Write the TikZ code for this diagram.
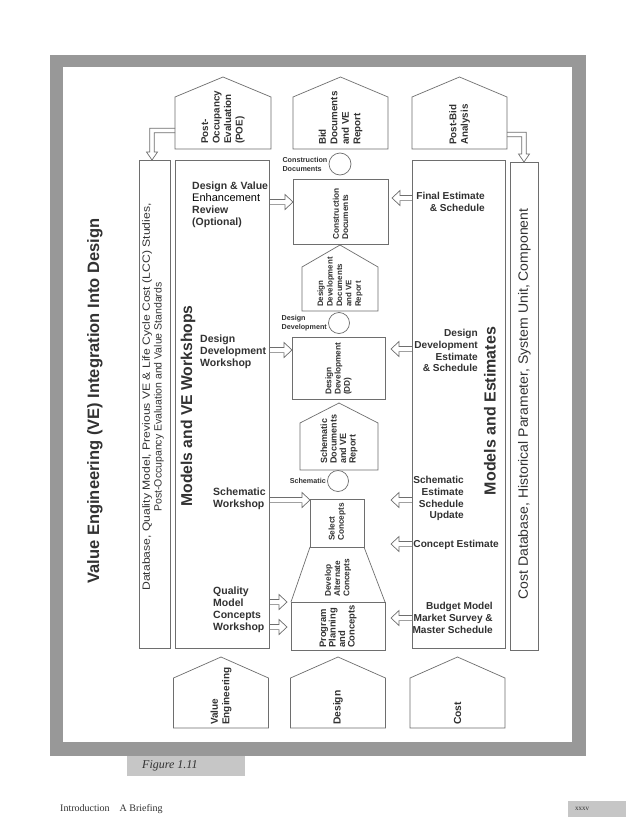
\documentclass[tikz,border=0pt]{standalone}
\usepackage{fontspec}
\setmainfont{Liberation Serif}
\setsansfont{Liberation Sans}
\usetikzlibrary{calc}
\definecolor{framegray}{RGB}{152,152,152}
\definecolor{tabgray}{RGB}{198,198,198}
\definecolor{inkline}{RGB}{110,110,110}
\definecolor{inktext}{RGB}{50,50,50}
\newcommand\fsz[2]{\fontsize{#1}{#2}\selectfont}
\newcommand\housepath[2]{\draw[ln] (#1.south west) -- (#1.north west) -- ($(#1.north)+(0,-#2)$) -- (#1.north east) -- (#1.south east) -- cycle;}
\begin{document}
\begin{tikzpicture}[x=1pt,y=-1pt,
  ln/.style={draw=inkline, line width=0.7pt},
  box/.style={ln, rectangle, inner sep=0pt, outer sep=0pt},
  body/.style={rectangle, inner sep=0pt, outer sep=0pt, draw=none},
  ring/.style={ln, circle, inner sep=0pt, outer sep=0pt},
  lbl/.style={font=\sffamily\bfseries\fsz{10.5}{12}, text=inktext, inner sep=0pt},
  rlbl/.style={font=\sffamily\bfseries\fsz{10.1}{11.8}, text=inktext, inner sep=0pt, align=right, anchor=north east},
  small/.style={font=\sffamily\bfseries\fsz{7.2}{9}, text=inktext, inner sep=1.5pt, align=left},
  vtext/.style={rotate=90, anchor=west, align=left, text=inktext, inner sep=0pt},
  boxtext/.style={vtext, font=\sffamily\bfseries\fsz{8.3}{9.3}},
  housetext/.style={vtext, font=\sffamily\bfseries\fsz{9.8}{11.5}},
  hollow/.style={ln, to path={
    let \p1=(\tikztostart), \p2=(\tikztotarget), \n1={(\x2-\x1)/abs(\x2-\x1)} in
    (\x1,{\y1+2.6pt}) -- ({\x2-(\n1)*8pt},{\y1+2.6pt}) -- ({\x2-(\n1)*8pt},{\y1+7.5pt})
    -- (\x2,\y1) -- ({\x2-(\n1)*8pt},{\y1-7.5pt}) -- ({\x2-(\n1)*8pt},{\y1-2.6pt}) -- (\x1,{\y1-2.6pt})}},
  hollowL/.style={ln, to path={
    let \p1=(\tikztostart), \p2=(\tikztotarget), \n1={(\x2-\x1)/abs(\x2-\x1)} in
    (\x1,{\y1+2.2pt}) -- ({\x2+(\n1)*2.2pt},{\y1+2.2pt}) -- ({\x2+(\n1)*2.2pt},{\y2+8pt})
    -- ({\x2+(\n1)*5.5pt},{\y2+8pt}) -- (\x2,\y2) -- ({\x2-(\n1)*5.5pt},{\y2+8pt})
    -- ({\x2-(\n1)*2.2pt},{\y2+8pt}) -- ({\x2-(\n1)*2.2pt},{\y1-2.2pt}) -- (\x1,{\y1-2.2pt})}}
]
\useasboundingbox (0,0) rectangle (638,827);
\fill[white] (0,0) rectangle (638,827);
% frame
\fill[framegray] (50,55) rectangle (586,756);
\fill[white] (63,67) rectangle (572,742);
% caption tab and footer
\node[fill=tabgray, minimum width=118pt, minimum height=20pt, anchor=north west, inner sep=0pt] (figtab) at (127,756) {};
\node[font=\rmfamily\itshape\fsz{12}{14}, text=inktext, anchor=west, inner sep=0pt] (figtxt) at ($(figtab.west)+(15,0)$) {Figure 1.11};
\node[font=\rmfamily\fsz{10}{12}, text=inktext, anchor=west, inner sep=0pt] (intro) at (60,809) {Introduction\quad A Briefing};
\node[fill=tabgray, minimum width=58pt, minimum height=16pt, anchor=north west, inner sep=0pt] (pg) at (568,801) {};
\node[font=\rmfamily\fsz{7}{8}, text=inktext, anchor=west, inner sep=0pt] (pgtxt) at ($(pg.west)+(7,0)$) {xxxv};

% tall boxes
\node[box, minimum width=31pt, minimum height=488pt] (dbL) at (154.5,404) {};
\node[box, minimum width=94pt, minimum height=488pt] (mve) at (222,404) {};
\node[box, minimum width=93pt, minimum height=488pt] (me) at (458.5,404) {};
\node[box, minimum width=28pt, minimum height=488pt] (dbR) at (524,406) {};

% top houses
\node[body, minimum width=96pt, minimum height=52pt] (poe) at (223,123) {};
\node[body, minimum width=95pt, minimum height=52pt] (bid) at (340.5,123) {};
\node[body, minimum width=95pt, minimum height=52pt] (postbid) at (459.5,123) {};
\housepath{poe}{20}
\housepath{bid}{20}
\housepath{postbid}{20}
\node[housetext] at ($(poe.south)+(0,-5)$) {Post-\\Occupancy\\Evaluation\\(POE)};
\node[housetext] at ($(bid.south)+(0,-4)$) {Bid\\Documents\\and VE\\Report};
\node[housetext] at ($(postbid.south)+(0,-4)$) {Post-Bid\\Analysis};

% bottom houses
\node[body, minimum width=95pt, minimum height=50pt] (veh) at (221,703) {};
\node[body, minimum width=95pt, minimum height=50pt] (desh) at (338,703) {};
\node[body, minimum width=95pt, minimum height=50pt] (costh) at (457.5,703) {};
\housepath{veh}{21}
\housepath{desh}{21}
\housepath{costh}{21}
\node[vtext, font=\sffamily\bfseries\fsz{10}{11.5}] at ($(veh.south)+(0,-3)$) {Value\\Engineering};
\node[vtext, font=\sffamily\bfseries\fsz{10.3}{12}] at ($(desh.south)+(0,-3)$) {Design};
\node[vtext, font=\sffamily\bfseries\fsz{10.3}{12}] at ($(costh.south)+(0,-3)$) {Cost};

% centre column
\node[ring, minimum size=22pt] (cdc) at (340,164) {};
\node[small, anchor=east] at (cdc.west) {Construction\\Documents};
\node[box, minimum width=95pt, minimum height=65pt] (cdbox) at (340.5,211.5) {};
\node[boxtext] at ($(cdbox.south)+(0,-4)$) {Construction\\Documents};

\node[body, minimum width=76pt, minimum height=44pt] (dddh) at (340,289) {};
\housepath{dddh}{22}
\node[boxtext, font=\sffamily\bfseries\fsz{7.9}{9.4}] at ($(dddh.south)+(0,-4)$) {Design\\Development\\Documents\\and VE\\Report};

\node[ring, minimum size=21pt] (ddc) at (339,323) {};
\node[small, anchor=east] at (ddc.west) {Design\\Development};
\node[box, minimum width=93pt, minimum height=62pt] (ddbox) at (338.5,368) {};
\node[boxtext] at ($(ddbox.south)+(0,-4)$) {Design\\Development\\(DD)};

\node[body, minimum width=78pt, minimum height=47pt] (schh) at (339,446.5) {};
\housepath{schh}{20}
\node[boxtext, font=\sffamily\bfseries\fsz{9}{9.5}] at ($(schh.south)+(0,-6)$) {Schematic\\Documents\\and VE\\Report};

\node[ring, minimum size=21pt] (schc) at (338,481) {};
\node[small, anchor=east] at (schc.west) {Schematic};
\node[box, minimum width=54pt, minimum height=48pt] (selbox) at (337,523) {};
\node[boxtext] at ($(selbox.south)+(0,-6)$) {Select\\Concepts};
\node[box, minimum width=94pt, minimum height=48pt] (progbox) at (338,626) {};
\draw[ln] (selbox.south west) -- (progbox.north west);
\draw[ln] (selbox.south east) -- (progbox.north east);
\node[boxtext] at ($(progbox.north)+(0,-5)$) {Develop\\Alternate\\Concepts};
\node[boxtext, font=\sffamily\bfseries\fsz{9.4}{9.5}] at ($(progbox.south)+(0,-2)$) {Program\\Planning\\and\\Concepts};

% column titles and vertical texts
\node[rotate=90, font=\sffamily\bfseries\fsz{16.5}{19}, text=inktext, inner sep=0pt] (title) at (95,401) {Value Engineering (VE) Integration Into Design};
\node[rotate=90, align=center, font=\sffamily\fsz{10.5}{11.8}, text=inktext, inner sep=0pt] (dbtxt) at (153,397) {\scalebox{1.16}[1]{Database, Quality Model, Previous VE \& Life Cycle Cost (LCC) Studies,}\\Post-Occupancy Evaluation and Value Standards};
\node[rotate=90, font=\sffamily\bfseries\fsz{15.7}{18}, text=inktext, inner sep=0pt] (mvet) at (188,406) {Models and VE Workshops};
\node[rotate=90, font=\sffamily\bfseries\fsz{16}{18}, text=inktext, inner sep=0pt] (met) at (490,411) {Models and Estimates};
\node[rotate=90, font=\sffamily\fsz{13.5}{15}, text=inktext, inner sep=0pt] (costt) at (524.5,404) {\scalebox{1.04}[1]{Cost Database, Historical Parameter, System Unit, Component}};

% left labels
\node[lbl, align=left, anchor=north west] (ldv) at (192,182) {Design \& Value\\{\mdseries\color{black}\fsz{11}{12}Enhancement}\\Review\\(Optional)};
\node[lbl, align=left, anchor=north west] (ldd) at (200,335) {Design\\Development\\Workshop};
\node[lbl, align=left, anchor=north west] (lsch) at (213,488) {Schematic\\Workshop};
\node[lbl, align=left, anchor=north west] (lqm) at (213,587) {Quality\\Model\\Concepts\\Workshop};

% right labels
\node[rlbl] (rfe) at (485,192) {Final Estimate\\\& Schedule};
\node[rlbl] (rdd) at (478,329) {Design\\Development\\Estimate\\\& Schedule};
\node[rlbl] (rse) at (464,476) {Schematic\\Estimate\\Schedule\\Update};
\node[rlbl] (rce) at (499,540) {Concept Estimate};
\node[rlbl] (rbm) at (493,602) {Budget Model\\Market Survey \&\\Master Schedule};

% hollow arrows, left column
\coordinate (a1) at (mve.east |- 0,202);
\coordinate (a2) at (mve.east |- 0,350);
\coordinate (a3) at (mve.east |- 0,500);
\coordinate (a4) at (mve.east |- 0,602);
\coordinate (a5) at (mve.east |- 0,627);
\draw[hollow] (a1) to (a1 -| cdbox.west);
\draw[hollow] (a2) to (a2 -| ddbox.west);
\draw[hollow] (a3) to (a3 -| selbox.west);
\draw[hollow] (a4) to ($(a4 -| progbox.west)+(-4,0)$);
\draw[hollow] (a5) to ($(a5 -| progbox.west)+(-4,0)$);

% hollow arrows, right column
\coordinate (rtip) at (391,0);
\coordinate (b1) at (me.west |- 0,198);
\coordinate (b2) at (me.west |- 0,349);
\coordinate (b3) at (me.west |- 0,500);
\coordinate (b4) at (me.west |- 0,544);
\coordinate (b5) at (me.west |- 0,618);
\draw[hollow] (b1) to ($(b1 -| cdbox.east)+(4,0)$);
\draw[hollow] (b2) to (b2 -| rtip);
\draw[hollow] (b3) to (b3 -| rtip);
\draw[hollow] (b4) to (b4 -| rtip);
\draw[hollow] (b5) to (b5 -| rtip);

% L-shaped hollow arrows from top houses
\coordinate (c1) at (poe.west |- 0,130.5);
\coordinate (c2) at (postbid.east |- 0,134.5);
\draw[hollowL] (c1) to ($(dbL.north)+(-2.5,0)$);
\draw[hollowL] (c2) to (dbR.north);
\end{tikzpicture}
\end{document}
